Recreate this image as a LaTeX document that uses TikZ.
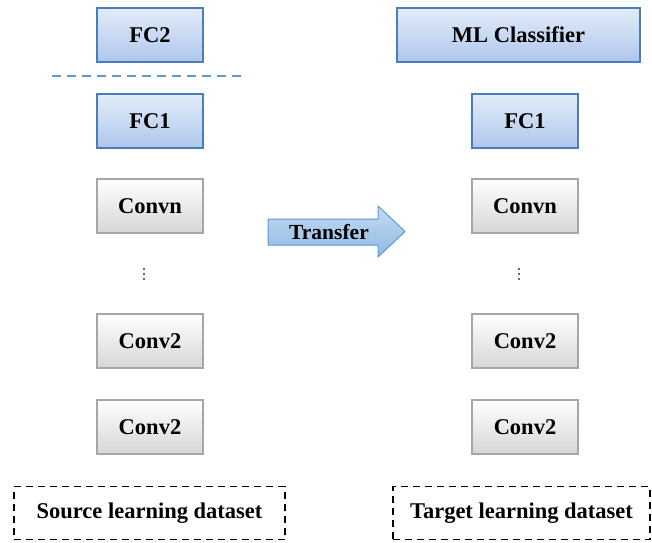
\documentclass[tikz,border=0pt]{standalone}
\usepackage{fontspec}
\setmainfont{Liberation Serif}
\begin{document}
\begin{tikzpicture}[x=1pt,y=-1pt,
  every node/.style={font=\fontsize{22.5}{26}\selectfont\bfseries},
  bluebox/.style={draw=blueedge,line width=1.6pt,top color=bluetop,bottom color=bluebot,minimum height=54pt,inner sep=0pt},
  graybox/.style={draw=grayedge,line width=1.6pt,top color=white,bottom color=graybot,minimum width=106pt,minimum height=54pt,inner sep=0pt},
  databox/.style={draw=black,line width=1.8pt,dash pattern=on 7pt off 5pt,minimum height=53pt,inner sep=0pt},
  dotmark/.style={fill=black!80,circle,inner sep=0pt,minimum size=2.2pt}]
\definecolor{blueedge}{HTML}{4A7EBB}
\definecolor{bluetop}{HTML}{E2ECFA}
\definecolor{bluebot}{HTML}{AFC7EC}
\definecolor{grayedge}{HTML}{A6A6A6}
\definecolor{graybot}{HTML}{D6D6D6}
\definecolor{dashblue}{HTML}{5B9BD5}
\definecolor{arrowtop}{HTML}{C5DCF2}
\definecolor{arrowbot}{HTML}{8FB8E2}
\useasboundingbox (0,0) rectangle (652,542);
% left column
\node[bluebox,minimum width=106pt] (fc2) at (150,35) {FC2};
\coordinate (dl) at (52,76);
\coordinate (dr) at (243,76);
\draw[dashblue,line width=2pt,dash pattern=on 9pt off 6pt] (dl) -- (dr);
\node[bluebox,minimum width=106pt] (fc1l) at (150,121) {FC1};
\node[graybox] (convnl) at (150,206) {Convn};
\node[dotmark] (dl1) at (144,269) {};
\node[dotmark] (dl2) at (144,274) {};
\node[dotmark] (dl3) at (144,279) {};
\node[graybox] (conv2al) at (150,341) {Conv2};
\node[graybox] (conv2bl) at (150,427) {Conv2};
\node[databox,minimum width=271pt] (src) at (149.5,513) {Source learning dataset};
% right column
\node[bluebox,minimum width=243pt] (ml) at (518.5,35) {ML Classifier};
\node[bluebox,minimum width=106pt] (fc1r) at (525,121) {FC1};
\node[graybox] (convnr) at (525,206) {Convn};
\node[dotmark] (dr1) at (519,269) {};
\node[dotmark] (dr2) at (519,274) {};
\node[dotmark] (dr3) at (519,279) {};
\node[graybox] (conv2ar) at (525,341) {Conv2};
\node[graybox] (conv2br) at (525,427) {Conv2};
\node[databox,minimum width=257pt] (tgt) at (521.5,513) {Target learning dataset};
% transfer arrow
\draw[draw=dashblue,line width=1pt,top color=arrowtop,bottom color=arrowbot]
  (268,219) -- (378,219) -- (378,206) -- (405,231.5) -- (378,257) -- (378,245) -- (268,245) -- cycle;
\node[font=\fontsize{21.5}{24}\selectfont\bfseries] (transfer) at (329,232) {Transfer};
\end{tikzpicture}
\end{document}
